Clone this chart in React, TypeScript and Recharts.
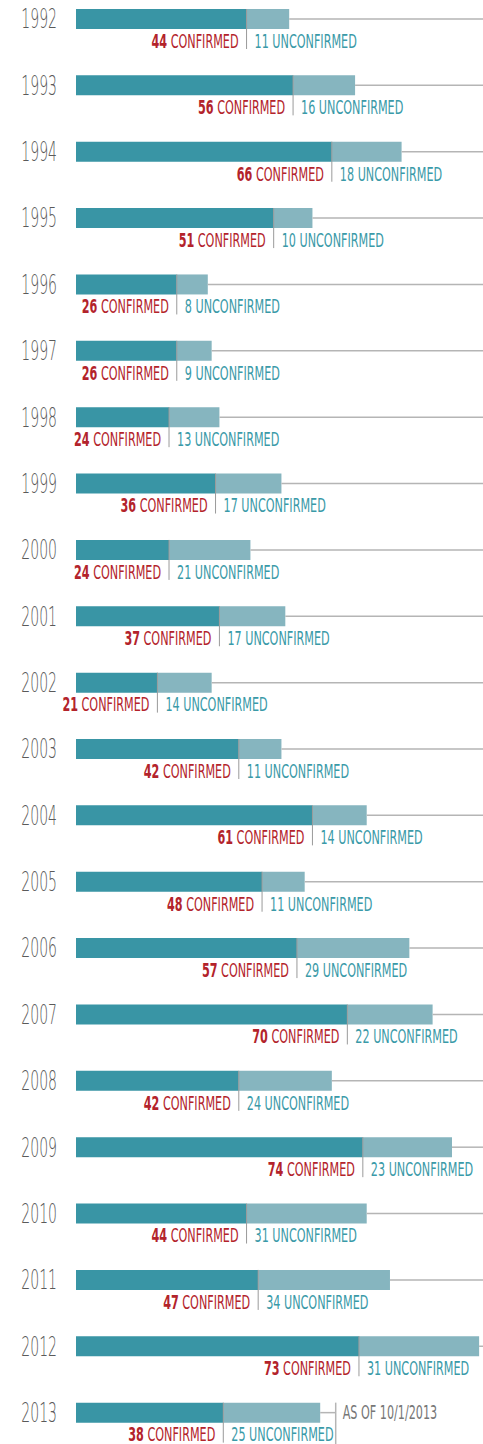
import { Bar, BarChart, LabelList, XAxis, YAxis } from "recharts";

const years = [
  "1992", "1993", "1994", "1995", "1996", "1997", "1998", "1999", "2000", "2001", "2002",
  "2003", "2004", "2005", "2006", "2007", "2008", "2009", "2010", "2011", "2012", "2013",
];
const confirmed = [44, 56, 66, 51, 26, 26, 24, 36, 24, 37, 21, 42, 61, 48, 57, 70, 42, 74, 44, 47, 73, 38];
const unconfirmed = [11, 16, 18, 10, 8, 9, 13, 17, 21, 17, 14, 11, 14, 11, 29, 22, 24, 23, 31, 34, 31, 25];
const maxValue = 105;
const asOfValue = 67; // where the 2013 note sits
const asOfText = "AS OF 10/1/2013";

const FONT = "'DejaVu Sans', sans-serif";
const DARK = "#3995a5";
const LIGHT = "#86b5bf";
const RED = "#b3232b";
const TEAL = "#3a9aa8";
const LINE = "#b5b5b5";
const PLOT_LEFT = 76;

const data = years.map((y, i) => {
  const total = confirmed[i] + unconfirmed[i];
  const last = i === years.length - 1;
  return {
    year: y,
    confirmed: confirmed[i],
    unconfirmed: unconfirmed[i],
    rest: last ? asOfValue - total : maxValue - total,
  };
});

// squeeze DejaVu horizontally so it reads like a condensed face
function Narrow({ x, y, k = 0.59, children }: { x: number; y: number; k?: number; children: any }) {
  return <g transform={`translate(${x},${y}) scale(${k},1)`}>{children}</g>;
}

// labels hang off the unconfirmed bar: x is the confirmed/unconfirmed boundary
function RowLabels(props: any) {
  const { x, y, height, index } = props;
  const bx = x;
  const cy = y + height / 2;
  const ly = cy + 22;
  return (
    <g fontFamily={FONT}>
      <Narrow x={PLOT_LEFT - 19} y={cy} k={0.54}>
        <text dy="0.36em" textAnchor="end" fontSize={26} fontWeight={300} fill="#5a5a5a">
          {years[index]}
        </text>
      </Narrow>
      <line x1={bx} x2={bx} y1={y} y2={ly + 8} stroke="#9a9a9a" strokeWidth={1} />
      <Narrow x={bx - 8} y={ly}>
        <text dy="0.36em" textAnchor="end" fontSize={19} fill={RED}>
          <tspan fontWeight="bold">{confirmed[index]}</tspan>
          <tspan> CONFIRMED</tspan>
        </text>
      </Narrow>
      <Narrow x={bx + 8} y={ly}>
        <text dy="0.36em" textAnchor="start" fontSize={19} fill={TEAL}>
          {`${unconfirmed[index]} UNCONFIRMED`}
        </text>
      </Narrow>
    </g>
  );
}

function RestLine(props: any) {
  const { x, y, width, height, index } = props;
  const cy = y + height / 2;
  const last = index === years.length - 1;
  if (!last) {
    return <line x1={x} x2={x + width} y1={cy} y2={cy} stroke={LINE} strokeWidth={1.5} />;
  }
  const ex = x + width;
  return (
    <g>
      <line x1={x} x2={ex} y1={cy} y2={cy} stroke={LINE} strokeWidth={1.5} />
      <line x1={ex} x2={ex} y1={y} y2={y + 60} stroke={LINE} strokeWidth={1.5} />
      <Narrow x={ex + 7} y={cy}>
        <text dy="0.36em" fontFamily={FONT} fontSize={19} fill="#777">
          {asOfText}
        </text>
      </Narrow>
    </g>
  );
}

export default function App() {
  return (
    <div style={{ position: "absolute", left: 0, top: -14, background: "#fff" }}>
      <BarChart
        layout="vertical"
        width={483}
        height={1460}
        data={data}
        margin={{ top: 0, right: 0, left: PLOT_LEFT, bottom: 0 }}
      >
        <XAxis type="number" domain={[0, maxValue]} hide allowDataOverflow />
        <YAxis type="category" dataKey="year" hide />
        <Bar dataKey="confirmed" stackId="a" barSize={20} fill={DARK} isAnimationActive={false} />
        <Bar dataKey="unconfirmed" stackId="a" barSize={20} fill={LIGHT} isAnimationActive={false}>
          <LabelList dataKey="unconfirmed" content={RowLabels} />
        </Bar>
        <Bar dataKey="rest" stackId="a" barSize={20} shape={RestLine} isAnimationActive={false} />
      </BarChart>
    </div>
  );
}
